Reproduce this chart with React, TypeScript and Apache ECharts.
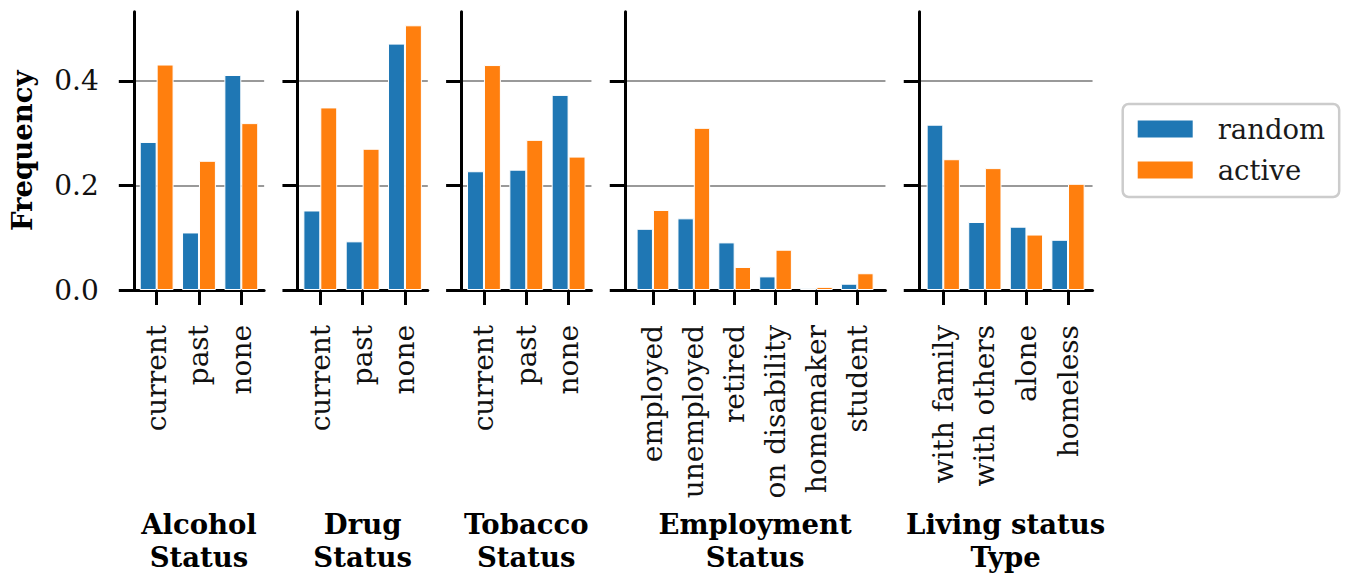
import { useEffect, useRef } from 'react';
import * as echarts from 'echarts';

// Category labels and frequencies for each panel
const groupTitles = ['Alcohol\nStatus', 'Drug\nStatus', 'Tobacco\nStatus', 'Employment\nStatus', 'Living status\nType'];
const seriesNames = ['random', 'active'];
const seriesColors = ['#1f77b4', '#ff7f0e'];

const alcoholCats = ['current', 'past', 'none'];
const alcoholRandom = [0.283, 0.110, 0.411];
const alcoholActive = [0.431, 0.247, 0.319];

const drugCats = ['current', 'past', 'none'];
const drugRandom = [0.152, 0.093, 0.471];
const drugActive = [0.349, 0.270, 0.506];

const tobaccoCats = ['current', 'past', 'none'];
const tobaccoRandom = [0.227, 0.230, 0.373];
const tobaccoActive = [0.430, 0.287, 0.255];

const employmentCats = ['employed', 'unemployed', 'retired', 'on disability', 'homemaker', 'student'];
const employmentRandom = [0.117, 0.137, 0.091, 0.026, 0.004, 0.012];
const employmentActive = [0.153, 0.310, 0.044, 0.077, 0.006, 0.032];

const livingCats = ['with family', 'with others', 'alone', 'homeless'];
const livingRandom = [0.316, 0.130, 0.121, 0.096];
const livingActive = [0.250, 0.233, 0.106, 0.203];

const yTicks = [0, 0.2, 0.4];
const yMax = 0.532;

const FONT = 'DejaVu Serif';

const panels = [
  { title: groupTitles[0], cats: alcoholCats, values: [alcoholRandom, alcoholActive] },
  { title: groupTitles[1], cats: drugCats, values: [drugRandom, drugActive] },
  { title: groupTitles[2], cats: tobaccoCats, values: [tobaccoRandom, tobaccoActive] },
  { title: groupTitles[3], cats: employmentCats, values: [employmentRandom, employmentActive] },
  { title: groupTitles[4], cats: livingCats, values: [livingRandom, livingActive] },
];

function buildOption() {
  const left0 = 133.8;
  const unit = 43.45;
  const gap = 33.3;
  const top = 11.7;
  const height = 278.3;

  const grid: any[] = [];
  const xAxis: any[] = [];
  const yAxis: any[] = [];
  const series: any[] = [];

  let x = left0;
  panels.forEach((p, i) => {
    const n = p.cats.length;
    const w = n * unit;
    grid.push({ left: x, top, width: w, height });
    x += w + gap;

    const idx = p.cats.map((_, k) => k);
    const pad = 0.05 * (n - 0.2);

    xAxis.push({
      type: 'value',
      gridIndex: i,
      min: -0.4 - pad,
      max: n - 0.6 + pad,
      axisLine: { show: true, onZero: false, lineStyle: { color: '#000', width: 3 } },
      axisTick: { show: true, length: 15, customValues: idx, lineStyle: { color: '#000', width: 3 } },
      axisLabel: {
        show: true,
        customValues: idx,
        rotate: 90,
        margin: 35,
        formatter: (v: number) => p.cats[Math.round(v)] ?? '',
        fontFamily: FONT,
        fontSize: 28,
        color: '#111',
      },
      splitLine: { show: false },
      name: p.title,
      nameLocation: 'middle',
      nameGap: 217,
      nameTextStyle: {
        fontFamily: FONT,
        fontWeight: 'bold',
        fontSize: 27.5,
        lineHeight: 33,
        color: '#000',
        align: 'center',
      },
    });

    yAxis.push({
      type: 'value',
      gridIndex: i,
      min: 0,
      max: yMax,
      interval: 0.2,
      axisLine: { show: true, onZero: false, lineStyle: { color: '#000', width: 3 } },
      axisTick: { show: true, length: 15, customValues: yTicks, lineStyle: { color: '#000', width: 3 } },
      axisLabel: {
        show: i === 0,
        customValues: yTicks,
        margin: 35,
        formatter: (v: number) => v.toFixed(1),
        fontFamily: FONT,
        fontSize: 28,
        color: '#111',
      },
      splitLine: {
        show: true,
        showMinLine: false,
        lineStyle: { color: '#999', width: 2 },
      },
      name: i === 0 ? 'Frequency' : '',
      nameLocation: 'middle',
      nameGap: 98,
      nameTextStyle: { fontFamily: FONT, fontWeight: 'bold', fontSize: 27.5, color: '#000' },
    });

    p.values.forEach((vals, s) => {
      series.push({
        type: 'bar',
        name: seriesNames[s],
        xAxisIndex: i,
        yAxisIndex: i,
        data: vals.map((v, k) => [k, v]),
        barGap: '0%',
        barCategoryGap: '20%',
        itemStyle: { color: seriesColors[s], borderColor: '#fff', borderWidth: 1 },
      });
    });
  });

  return {
    animation: false,
    backgroundColor: '#fff',
    grid,
    xAxis,
    yAxis,
    series,
    legend: {
      orient: 'vertical',
      left: 1122.7,
      top: 104,
      data: seriesNames,
      icon: 'rect',
      itemWidth: 57,
      itemHeight: 19,
      itemGap: 11,
      padding: [10, 14, 12, 13],
      borderColor: '#ccc',
      borderWidth: 2.5,
      borderRadius: 6,
      backgroundColor: '#fff',
      selectedMode: false,
      textStyle: {
        fontFamily: FONT,
        fontSize: 27.5,
        color: '#1a1a1a',
        lineHeight: 30,
        padding: [0, 0, 0, 19],
      },
    },
  };
}

export default function App() {
  const ref = useRef<HTMLDivElement>(null);

  useEffect(() => {
    document.body.style.margin = '0';
    const chart = echarts.init(ref.current!, undefined, { renderer: 'svg' });
    chart.setOption(buildOption() as any);
    return () => chart.dispose();
  }, []);

  return <div ref={ref} style={{ width: 1347, height: 579 }} />;
}
